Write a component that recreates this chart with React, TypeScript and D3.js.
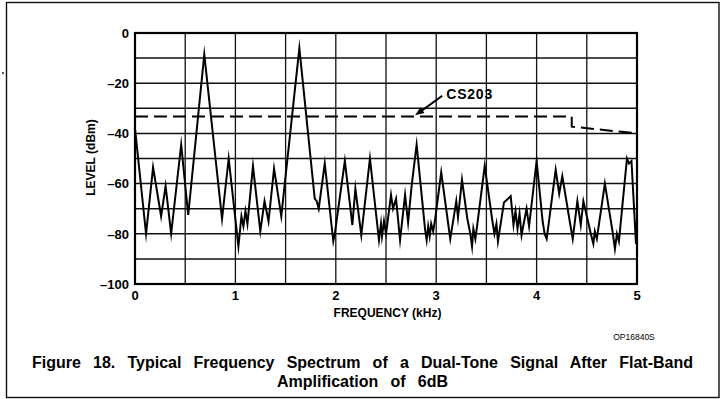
import React, { useEffect, useRef } from "react";
import * as d3 from "d3";

// Spectrum trace (frequency in kHz, level in dBm)
const freqKHz = [
  0.0, 0.11, 0.18, 0.26, 0.305, 0.36, 0.46, 0.53, 0.69, 0.867, 0.933, 1.03, 1.06, 1.08, 1.1, 1.12,
  1.175, 1.248, 1.29, 1.33, 1.385, 1.457, 1.637, 1.79, 1.81, 1.83, 1.89, 1.975, 1.99, 2.09, 2.165,
  2.195, 2.254, 2.34, 2.43, 2.45, 2.46, 2.48, 2.5, 2.52, 2.55, 2.57, 2.6, 2.64, 2.69, 2.72, 2.755,
  2.805, 2.89, 2.905, 2.92, 2.935, 2.95, 2.97, 2.99, 3.05, 3.14, 3.2, 3.217, 3.257, 3.31, 3.34,
  3.357, 3.37, 3.39, 3.41, 3.483, 3.56, 3.58, 3.6, 3.615, 3.675, 3.742, 3.77, 3.79, 3.81, 3.83,
  3.85, 3.9, 3.925, 4.0, 4.06, 4.08, 4.1, 4.12, 4.19, 4.225, 4.256, 4.33, 4.36, 4.406, 4.44,
  4.466, 4.54, 4.565, 4.58, 4.6, 4.68, 4.76, 4.78, 4.8, 4.82, 4.9, 4.92, 4.945, 4.99, 5.0,
];
const levelDbm = [
  -38, -80, -53.5, -73, -61, -80, -44.5, -72.5, -8.5, -74, -50, -85, -73, -77, -71, -76,
  -53, -79, -67, -75, -54, -73, -6, -66, -67, -70, -52, -83, -80, -51, -76.5,
  -62, -80.5, -50, -82.5, -76, -81, -75, -80, -74, -64.5, -70, -66, -82.5, -64.5, -75.5, -61,
  -44.5, -78.5, -82.5, -77, -81, -76, -79, -74, -55.5, -82, -67, -73.5, -58.5, -74, -80,
  -85, -78, -82, -76, -53, -75, -80, -76, -83, -67.5, -65, -76.5, -71, -78, -72,
  -80.5, -70, -77, -51, -75, -80, -82, -76, -54.5, -64, -57, -75, -82, -67, -76.5,
  -67, -80, -84, -79, -82, -60, -80, -86, -80, -83, -50, -52, -51, -84, -75,
];

// CS203 reference (dashed) curve
const cs203Freq = [0, 4.35, 4.35, 5];
const cs203Level = [-33.3, -33.3, -37.3, -40];

const xTicks = [0, 1, 2, 3, 4, 5];
const yTicks = [0, -20, -40, -60, -80, -100];

const titleLine1 = "Figure 18. Typical Frequency Spectrum of a Dual-Tone Signal After Flat-Band";
const titleLine2 = "Amplification of 6dB";
const xTitle = "FREQUENCY (kHz)";
const yTitle = "LEVEL (dBm)";
const seriesLabel = "CS203";
const codeLabel = "OP16840S";

const W = 724;
const H = 399;
const FONT = "'Liberation Sans', Arial, Helvetica, sans-serif";

export default function App() {
  const ref = useRef<SVGSVGElement | null>(null);

  useEffect(() => {
    const svg = d3.select(ref.current);
    svg.selectAll("*").remove();

    const x = d3.scaleLinear().domain([0, 5]).range([135, 637]);
    const y = d3.scaleLinear().domain([-100, 0]).range([284, 33]);

    // outer frame
    svg.append("rect").attr("x", 6.5).attr("y", 2.5).attr("width", 712.5).attr("height", 395)
      .attr("fill", "none").attr("stroke", "#111").attr("stroke-width", 1.4);
    svg.append("circle").attr("cx", 3).attr("cy", 73).attr("r", 1).attr("fill", "#222");

    const g = svg.append("g");

    // grid
    const xGrid = d3.range(0.5, 5, 0.5);
    const yGrid = d3.range(-90, 0, 10);
    g.selectAll("line.vg").data(xGrid).enter().append("line")
      .attr("x1", (d) => x(d)).attr("x2", (d) => x(d)).attr("y1", y(0)).attr("y2", y(-100))
      .attr("stroke", "#111").attr("stroke-width", 1.3);
    g.selectAll("line.hg").data(yGrid).enter().append("line")
      .attr("x1", x(0)).attr("x2", x(5)).attr("y1", (d) => y(d)).attr("y2", (d) => y(d))
      .attr("stroke", "#111").attr("stroke-width", 1.5);

    // plot frame
    g.append("rect").attr("x", x(0)).attr("y", y(0)).attr("width", x(5) - x(0)).attr("height", y(-100) - y(0))
      .attr("fill", "none").attr("stroke", "#000").attr("stroke-width", 2.2);

    // dashed CS203 line
    const csData = cs203Freq.map((f, i) => [f, cs203Level[i]] as [number, number]);
    g.append("path").datum(csData)
      .attr("d", d3.line<[number, number]>().x((d) => x(d[0])).y((d) => y(d[1])))
      .attr("fill", "none").attr("stroke", "#000").attr("stroke-width", 2)
      .attr("stroke-dasharray", "13,6");

    // spectrum trace
    const tr = freqKHz.map((f, i) => [f, levelDbm[i]] as [number, number]);
    g.append("path").datum(tr)
      .attr("d", d3.line<[number, number]>().x((d) => x(d[0])).y((d) => y(d[1])))
      .attr("fill", "none").attr("stroke", "#000").attr("stroke-width", 2)
      .attr("stroke-linejoin", "miter").attr("stroke-miterlimit", 10);

    // annotation arrow
    const ax0 = x(3.06), ay0 = y(-25), ax1 = x(2.79), ay1 = y(-32.8);
    g.append("line").attr("x1", ax0).attr("y1", ay0).attr("x2", ax1 + 5).attr("y2", ay1 - 3.5)
      .attr("stroke", "#000").attr("stroke-width", 2);
    const ang = Math.atan2(ay1 - ay0, ax1 - ax0);
    const hl = 9, hw = 3.5;
    const bx = ax1 - hl * Math.cos(ang), by = ay1 - hl * Math.sin(ang);
    g.append("path")
      .attr("d", `M${ax1},${ay1}L${bx + hw * Math.sin(ang)},${by - hw * Math.cos(ang)}L${bx - hw * Math.sin(ang)},${by + hw * Math.cos(ang)}Z`)
      .attr("fill", "#000");
    g.append("text").attr("x", x(3.1)).attr("y", y(-26.3)).text(seriesLabel)
      .attr("font-family", FONT).attr("font-weight", "bold").attr("font-size", 14)
      .attr("letter-spacing", 0.8).attr("fill", "#000");

    // tick labels
    g.selectAll("text.yt").data(yTicks).enter().append("text")
      .attr("x", 129).attr("y", (d) => y(d) + 4.7).attr("text-anchor", "end")
      .attr("font-family", FONT).attr("font-weight", "bold").attr("font-size", 13)
      .text((d) => (d < 0 ? "\u2013" + Math.abs(d) : String(d)));
    g.selectAll("text.xt").data(xTicks).enter().append("text")
      .attr("x", (d) => x(d)).attr("y", 299.5).attr("text-anchor", "middle")
      .attr("font-family", FONT).attr("font-weight", "bold").attr("font-size", 13)
      .text((d) => String(d));

    // axis titles
    g.append("text").attr("transform", "translate(95,157.5) rotate(-90)").attr("text-anchor", "middle")
      .attr("font-family", FONT).attr("font-weight", "bold").attr("font-size", 12).text(yTitle);
    g.append("text").attr("x", 387.5).attr("y", 317).attr("text-anchor", "middle")
      .attr("font-family", FONT).attr("font-weight", "bold").attr("font-size", 12).text(xTitle);

    g.append("text").attr("x", 634).attr("y", 339.5).attr("text-anchor", "middle")
      .attr("font-family", FONT).attr("font-size", 8.5).text(codeLabel);

    // title, justified by word spacing
    const t1 = g.append("text").attr("x", 32).attr("y", 368)
      .attr("font-family", FONT).attr("font-weight", "bold").attr("font-size", 16).text(titleLine1);
    const n1 = t1.node() as SVGTextElement;
    const len1 = n1.getComputedTextLength();
    const sp1 = titleLine1.split(" ").length - 1;
    t1.attr("word-spacing", Math.max(0, (661 - len1) / sp1));

    const t2 = g.append("text").attr("x", 277).attr("y", 386.5)
      .attr("font-family", FONT).attr("font-weight", "bold").attr("font-size", 16).text(titleLine2);
    const n2 = t2.node() as SVGTextElement;
    const len2 = n2.getComputedTextLength();
    const sp2 = titleLine2.split(" ").length - 1;
    t2.attr("word-spacing", Math.max(0, (171 - len2) / sp2));
  }, []);

  return (
    <svg ref={ref} width={W} height={H}
      style={{ position: "absolute", left: 0, top: 0, background: "#fff", display: "block" }} />
  );
}
